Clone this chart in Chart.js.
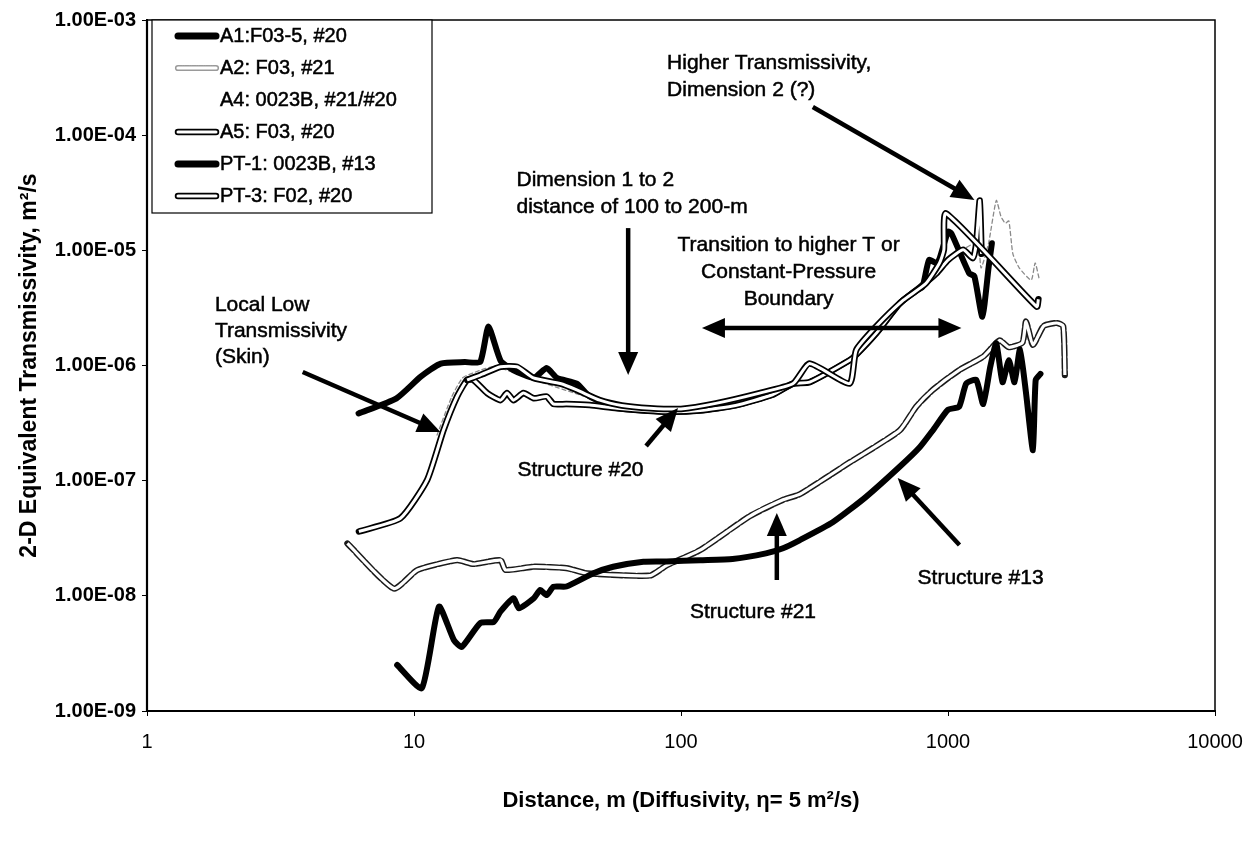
<!DOCTYPE html>
<html>
<head>
<meta charset="utf-8">
<script src="https://cdn.jsdelivr.net/npm/chart.js@4.4.1/dist/chart.umd.min.js"></script>
<style>
  html, body { margin: 0; padding: 0; background: #fff; }
  canvas { display: block; }
</style>
</head>
<body>
<canvas id="chart" width="1257" height="854"></canvas>
<script>
// Axis ticks and their printed labels
const xTickValues = [1, 10, 100, 1000, 10000];
const xTickLabels = ['1', '10', '100', '1000', '10000'];
const yTickValues = [1e-9, 1e-8, 1e-7, 1e-6, 1e-5, 1e-4, 1e-3];
const yTickLabels = ['1.00E-09', '1.00E-08', '1.00E-07', '1.00E-06', '1.00E-05', '1.00E-04', '1.00E-03'];

// Series names, in legend order
const seriesNames = ['A1:F03-5, #20', 'A2: F03, #21', 'A4: 0023B, #21/#20', 'A5: F03, #20', 'PT-1: 0023B, #13', 'PT-3: F02, #20'];

// Distance (m) and 2-D equivalent transmissivity (m2/s) for each test
const a1Distance = [6.2, 8.6, 10.6, 12.6, 15.5, 17.7, 19.0, 21.1, 23.6, 28.1, 31.4, 34.3, 40.7, 45.5, 57.5, 88.4, 117.8, 160, 220, 263, 303, 428, 453, 540, 660, 760, 803, 849, 907, 931, 1000, 1030, 1200, 1255, 1345, 1420, 1460];
const a1Trans = [3.83e-7, 5.19e-7, 8.0e-7, 1.04e-6, 1.07e-6, 1.075e-6, 2.18e-6, 1.10e-6, 9.1e-7, 7.81e-7, 9.5e-7, 7.81e-7, 6.97e-7, 5.38e-7, 4.26e-7, 3.97e-7, 4.07e-7, 4.50e-7, 5.57e-7, 6.97e-7, 7.16e-7, 1.11e-6, 1.24e-6, 1.92e-6, 3.47e-6, 4.49e-6, 4.83e-6, 8.24e-6, 7.71e-6, 8.55e-6, 1.45e-5, 1.40e-5, 6.32e-6, 5.97e-6, 2.65e-6, 7.17e-6, 1.15e-5];

const a2Distance = [5.63, 8.4, 10.3, 14.5, 16.7, 21.1, 22.0, 28.1, 37.2, 44.4, 76.6, 88.4, 117.8, 180, 241, 279, 428, 659, 760, 877, 1100, 1355, 1560, 1690, 1900, 1960, 2080, 2280, 2550, 2700, 2740];
const a2Trans = [2.85e-8, 1.157e-8, 1.676e-8, 2.04e-8, 1.89e-8, 2.04e-8, 1.68e-8, 1.79e-8, 1.74e-8, 1.57e-8, 1.50e-8, 1.84e-8, 2.49e-8, 4.88e-8, 6.82e-8, 7.64e-8, 1.44e-7, 2.73e-7, 4.38e-7, 6.14e-7, 9.1e-7, 1.195e-6, 1.65e-6, 1.44e-6, 1.58e-6, 2.41e-6, 1.51e-6, 2.20e-6, 2.34e-6, 2.20e-6, 8.26e-7];

const a4Distance = [12.2, 13.8, 15.2, 17, 20, 30, 50, 100, 200, 400, 600, 900, 1100, 1290, 1330, 1420, 1517, 1580, 1640, 1690, 1750, 1850, 2050, 2120, 2200];
const a4Trans = [2.49e-7, 5.26e-7, 7.81e-7, 8.78e-7, 9.76e-7, 7.16e-7, 4.94e-7, 4.13e-7, 5.57e-7, 9.76e-7, 2.62e-6, 7.02e-6, 9.70e-6, 1.165e-5, 7.02e-6, 1.165e-5, 2.71e-5, 1.96e-5, 1.72e-5, 1.80e-5, 9.32e-6, 7.02e-6, 5.52e-6, 7.78e-6, 5.52e-6];

const a5Distance = [15.8, 17.7, 21.1, 24.3, 28, 35.3, 40.7, 49.6, 60, 76.5, 100, 135, 197, 263, 303, 428, 453, 538, 680, 826, 930, 965, 984, 2150, 2180];
const a5Trans = [7.49e-7, 8.26e-7, 9.76e-7, 9.76e-7, 7.81e-7, 6.97e-7, 6.14e-7, 5.0e-7, 4.50e-7, 4.26e-7, 4.20e-7, 4.69e-7, 5.76e-7, 6.97e-7, 1.04e-6, 6.97e-7, 1.36e-6, 2.18e-6, 3.69e-6, 5.15e-6, 7.78e-6, 1.01e-5, 2.09e-5, 3.24e-6, 3.76e-6];

const pt1Distance = [8.65, 10.7, 12.4, 14.1, 15.1, 17.7, 19.9, 21.1, 23.6, 24.7, 28.1, 29.7, 31.4, 33.3, 37.2, 47, 55.7, 72.3, 88.4, 118, 156, 208, 241, 279, 370, 492, 659, 785, 877, 1000, 1100, 1170, 1276, 1355, 1440, 1517, 1600, 1690, 1775, 1860, 1960, 2080, 2130, 2220];
const pt1Trans = [2.51e-9, 1.58e-9, 8.07e-9, 4.14e-9, 3.60e-9, 5.80e-9, 5.94e-9, 7.32e-9, 9.52e-9, 7.79e-9, 9.52e-9, 1.123e-8, 1.014e-8, 1.20e-8, 1.205e-8, 1.57e-8, 1.79e-8, 1.98e-8, 1.99e-8, 2.04e-8, 2.09e-8, 2.34e-8, 2.59e-8, 3.05e-8, 4.35e-8, 7.2e-8, 1.32e-7, 1.96e-7, 2.73e-7, 4.13e-7, 4.38e-7, 6.97e-7, 7.49e-7, 4.63e-7, 9.76e-7, 1.56e-6, 7.16e-7, 1.11e-6, 7.16e-7, 1.376e-6, 5.76e-7, 1.84e-7, 7.49e-7, 8.46e-7];

const pt3Distance = [6.22, 8.9, 11.2, 12.9, 14.5, 15.8, 16.7, 18.8, 21.1, 22.3, 23.6, 25.7, 28.1, 31.4, 33.3, 37.2, 45.5, 57.5, 88.4, 117.8, 160, 220, 263, 303, 428, 453, 540, 660, 760, 907, 1000, 1140, 1240, 1276, 1315, 1335];
const pt3Trans = [3.62e-8, 4.72e-8, 1.013e-7, 2.75e-7, 5.38e-7, 7.49e-7, 7.49e-7, 5.76e-7, 5.0e-7, 5.76e-7, 5.0e-7, 5.76e-7, 5.19e-7, 5.38e-7, 4.63e-7, 4.63e-7, 4.53e-7, 4.26e-7, 3.97e-7, 4.07e-7, 4.50e-7, 5.57e-7, 6.97e-7, 7.16e-7, 1.11e-6, 1.24e-6, 1.92e-6, 3.47e-6, 4.49e-6, 6.35e-6, 8.24e-6, 1.01e-5, 8.55e-6, 1.15e-5, 2.71e-5, 9.32e-6];

// ---- drawing styles ----
const FONT = "'Liberation Sans', Arial, Helvetica, sans-serif";
const STYLES = {
  thick:  { kind: 'solid', color: '#000', width: 6 },
  hollow: { kind: 'hollow', outline: '#000', width: 6.5, inner: '#fff', innerWidth: 3, dash: [] },
  hollowDashed: { kind: 'hollow', outline: '#1a1a1a', width: 6.2, inner: '#fff', innerWidth: 3.2, dash: [10, 3] },
  faint:  { kind: 'solid', color: '#8a8a8a', width: 1.3, dash: [4, 3] }
};

// series: name, values, style, drawing weight (higher = drawn earlier / underneath)
const series = [
  { name: seriesNames[0], x: a1Distance, y: a1Trans, style: 'thick', order: 90 },
  { name: seriesNames[1], x: a2Distance, y: a2Trans, style: 'hollowDashed', order: 40 },
  { name: seriesNames[2], x: a4Distance, y: a4Trans, style: 'faint', order: 100 },
  { name: seriesNames[3], x: a5Distance, y: a5Trans, style: 'hollow', order: 60 },
  { name: seriesNames[4], x: pt1Distance, y: pt1Trans, style: 'thick', order: 10 },
  { name: seriesNames[5], x: pt3Distance, y: pt3Trans, style: 'hollow', order: 80 }
];

function points(xs, ys) { return xs.map((v, i) => ({ x: v, y: ys[i] })); }

const datasets = [];
series.forEach(s => {
  const st = STYLES[s.style];
  const data = points(s.x, s.y);
  const base = { data, pointRadius: 0, pointHoverRadius: 0, tension: 0.18, fill: false,
                 borderJoinStyle: 'round', borderCapStyle: 'round', spanGaps: true };
  if (st.kind === 'solid') {
    datasets.push(Object.assign({}, base, { label: s.name, borderColor: st.color, borderWidth: st.width,
      borderDash: st.dash || [], order: s.order }));
  } else {
    datasets.push(Object.assign({}, base, { label: s.name, borderColor: st.outline, borderWidth: st.width,
      borderDash: st.dash, order: s.order + 1 }));
    datasets.push(Object.assign({}, base, { label: s.name + ' (core)', borderColor: st.inner, borderWidth: st.innerWidth,
      borderCapStyle: 'butt', order: s.order }));
  }
});

// ---- callouts (anchored in data coordinates) ----
const notes = [
  { lines: ['Higher Transmissivity,', 'Dimension 2 (?)'], x: 88.7, y: 4.23e-4, align: 'left', step: 27 },
  { lines: ['Dimension 1 to 2', 'distance of 100 to 200-m'], x: 24.2, y: 4.08e-5, align: 'left', step: 27 },
  { lines: ['Transition to higher T or', 'Constant-Pressure', 'Boundary'], x: 253, y: 1.112e-5, align: 'center', step: 27 },
  { lines: ['Local Low', 'Transmissivity', '(Skin)'], x: 1.796, y: 3.35e-6, align: 'left', step: 26 },
  { lines: ['Structure #20'], x: 24.4, y: 1.238e-7, align: 'left', step: 26 },
  { lines: ['Structure #21'], x: 108, y: 7.24e-9, align: 'left', step: 26 },
  { lines: ['Structure #13'], x: 769, y: 1.43e-8, align: 'left', step: 26 }
];
const arrows = [
  { from: [311.6, 1.757e-4], to: [1256, 2.74e-5] },
  { from: [63.4, 1.56e-5], to: [63.4, 8.27e-7] },
  { from: [119.8, 2.12e-6], to: [1123, 2.12e-6], both: true },
  { from: [3.83, 8.78e-7], to: [12.56, 2.65e-7] },
  { from: [74, 2.0e-7], to: [97.5, 4.28e-7] },
  { from: [228.5, 1.373e-8], to: [228.5, 5.24e-8] },
  { from: [1104, 2.76e-8], to: [648, 1.055e-7] }
];

function arrowHead(ctx, x1, y1, x2, y2, len, half) {
  const a = Math.atan2(y2 - y1, x2 - x1);
  ctx.beginPath();
  ctx.moveTo(x2, y2);
  ctx.lineTo(x2 - len * Math.cos(a) + half * Math.sin(a), y2 - len * Math.sin(a) - half * Math.cos(a));
  ctx.lineTo(x2 - len * Math.cos(a) - half * Math.sin(a), y2 - len * Math.sin(a) + half * Math.cos(a));
  ctx.closePath();
  ctx.fill();
}
function drawArrow(ctx, x1, y1, x2, y2, both) {
  const len = 23, half = 10;
  const a = Math.atan2(y2 - y1, x2 - x1);
  const sx = both ? x1 + (len - 2) * Math.cos(a) : x1, sy = both ? y1 + (len - 2) * Math.sin(a) : y1;
  const ex = x2 - (len - 2) * Math.cos(a), ey = y2 - (len - 2) * Math.sin(a);
  ctx.beginPath();
  ctx.moveTo(sx, sy);
  ctx.lineTo(ex, ey);
  ctx.stroke();
  arrowHead(ctx, x1, y1, x2, y2, len, half);
  if (both) arrowHead(ctx, x2, y2, x1, y1, len, half);
}

function legendSample(ctx, st, x1, x2, y) {
  ctx.save();
  ctx.lineCap = 'round';
  if (st.kind === 'solid') {
    ctx.strokeStyle = st.color; ctx.lineWidth = st.width === 6 ? 7 : st.width;
    ctx.setLineDash(st.dash || []);
    ctx.beginPath(); ctx.moveTo(x1, y); ctx.lineTo(x2, y); ctx.stroke();
  } else {
    ctx.strokeStyle = st.outline; ctx.lineWidth = st.width; ctx.setLineDash(st.dash);
    if (st.dash.length) { ctx.strokeStyle = '#9a9a9a'; ctx.setLineDash([4, 3]); }
    ctx.beginPath(); ctx.moveTo(x1, y); ctx.lineTo(x2, y); ctx.stroke();
    ctx.setLineDash([]);
    ctx.strokeStyle = st.inner; ctx.lineWidth = st.innerWidth;
    ctx.beginPath(); ctx.moveTo(x1, y); ctx.lineTo(x2, y); ctx.stroke();
  }
  ctx.restore();
}

const overlay = {
  id: 'overlay',
  afterDraw(chart) {
    const { ctx, chartArea: ca, scales: { x, y } } = chart;
    ctx.save();
    // plot frame
    ctx.strokeStyle = '#000';
    ctx.lineWidth = 1.5;
    ctx.strokeRect(ca.left, ca.top, ca.right - ca.left, ca.bottom - ca.top);
    ctx.lineWidth = 2.2;
    ctx.beginPath();
    ctx.moveTo(ca.left, ca.top); ctx.lineTo(ca.left, ca.bottom); ctx.lineTo(ca.right, ca.bottom);
    ctx.stroke();

    // arrows
    ctx.fillStyle = '#000';
    ctx.lineWidth = 4.5;
    ctx.lineCap = 'butt';
    arrows.forEach(a => {
      drawArrow(ctx, x.getPixelForValue(a.from[0]), y.getPixelForValue(a.from[1]),
                x.getPixelForValue(a.to[0]), y.getPixelForValue(a.to[1]), a.both);
    });

    // callout text
    ctx.font = '21px ' + FONT;
    ctx.textBaseline = 'middle';
    ctx.lineWidth = 0.5;
    ctx.strokeStyle = '#000';
    notes.forEach(n => {
      ctx.textAlign = n.align;
      const px = x.getPixelForValue(n.x), py = y.getPixelForValue(n.y);
      n.lines.forEach((t, i) => {
        ctx.fillText(t, px, py + i * n.step);
        ctx.strokeText(t, px, py + i * n.step);
      });
    });

    // legend box
    const bx = ca.left + 5, by = ca.top, bw = 280, bh = 193;
    ctx.fillStyle = '#fff';
    ctx.fillRect(bx, by, bw, bh);
    ctx.lineWidth = 1.2;
    ctx.strokeRect(bx, by, bw, bh);
    ctx.fillStyle = '#000';
    ctx.textAlign = 'left';
    ctx.font = '20px ' + FONT;
    seriesNames.forEach((name, i) => {
      const s = series.find(q => q.name === name);
      const ly = by + 16 + i * 32;
      if (s.style !== 'faint') legendSample(ctx, STYLES[s.style], bx + 26, bx + 64, ly);
      ctx.lineWidth = 0.5;
      ctx.fillText(name, bx + 68, ly);
      ctx.strokeText(name, bx + 68, ly);
    });
    ctx.restore();
  }
};

const chart = new Chart(document.getElementById('chart').getContext('2d'), {
  type: 'line',
  data: { datasets },
  options: {
    responsive: false,
    animation: false,
    devicePixelRatio: 1,
    events: [],
    layout: { padding: { top: 20, right: 42, left: 0, bottom: 0 } },
    plugins: { legend: { display: false }, tooltip: { enabled: false } },
    scales: {
      x: {
        type: 'logarithmic', min: 1, max: 10000,
        afterFit(scale) { scale.height = 143; },
        afterBuildTicks(scale) { scale.ticks = xTickValues.map(v => ({ value: v })); },
        ticks: {
          callback: (v, i) => xTickLabels[i], color: '#000', padding: 14,
          maxRotation: 0, autoSkip: false,
          font: { family: FONT, size: 20 }
        },
        grid: { drawOnChartArea: false, drawTicks: true, tickLength: 5, color: '#000', lineWidth: 1 },
        border: { display: true, color: '#000', width: 2 },
        title: {
          display: true, text: 'Distance, m (Diffusivity, \u03b7= 5 m\u00b2/s)', color: '#000',
          font: { family: FONT, size: 22, weight: 'bold' }, padding: { top: 0, bottom: 40 }
        }
      },
      y: {
        type: 'logarithmic', min: 1e-9, max: 1e-3,
        afterFit(scale) { scale.width = 147; },
        afterBuildTicks(scale) { scale.ticks = yTickValues.map(v => ({ value: v })); },
        ticks: {
          callback: (v, i) => yTickLabels[i], color: '#000', padding: 6, autoSkip: false,
          font: { family: FONT, size: 20, weight: 'bold' }
        },
        grid: { drawOnChartArea: false, drawTicks: true, tickLength: 5, color: '#000', lineWidth: 1 },
        border: { display: true, color: '#000', width: 2 },
        title: {
          display: true, text: '2-D Equivalent Transmissivity, m\u00b2/s', color: '#000',
          font: { family: "'Liberation Sans Narrow', " + FONT, size: 23, weight: 'bold' }, padding: { top: 16, bottom: 0 }
        }
      }
    }
  },
  plugins: [overlay]
});
</script>
</body>
</html>
